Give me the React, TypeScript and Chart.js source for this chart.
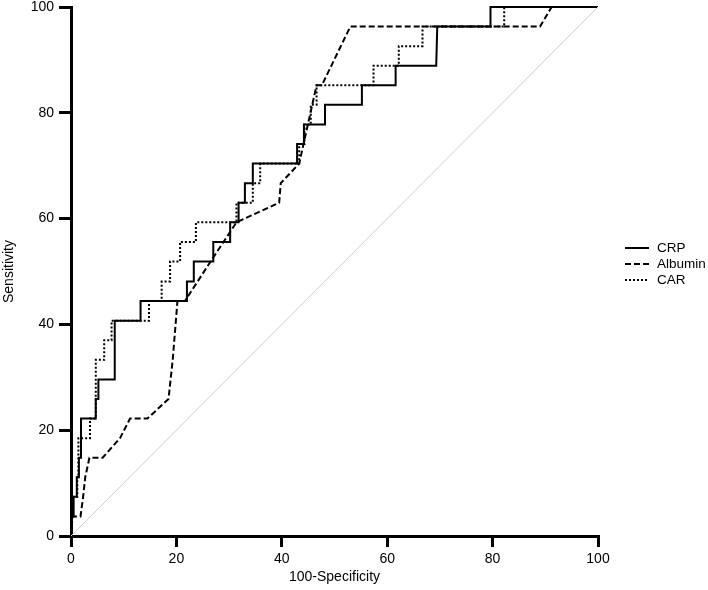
import React, { useEffect, useRef } from 'react';
import { Chart, registerables } from 'chart.js';

Chart.register(...registerables);

// ---- data (x = 100-Specificity, y = Sensitivity) ----
const seriesNames = ['CRP', 'Albumin', 'CAR'];

const crpPoints: number[][] = [
  [0, 0], [0, 3.7], [0.5, 3.7], [0.5, 7.4], [1.1, 7.4], [1.1, 11.1], [1.5, 11.1], [1.5, 14.8],
  [1.9, 14.8], [1.9, 22.2], [4.7, 22.2], [4.7, 25.9], [5.2, 25.9], [5.2, 29.6], [8.3, 29.6],
  [8.3, 40.7], [13.2, 40.7], [13.2, 44.4], [22.0, 44.4], [22.0, 48.1], [23.3, 48.1], [23.3, 51.9],
  [27.0, 51.9], [27.0, 55.6], [30.2, 55.6], [30.2, 59.3], [31.8, 59.3], [31.8, 63.0], [33.0, 63.0],
  [33.0, 66.7], [34.5, 66.7], [34.5, 70.4], [42.9, 70.4], [42.9, 74.1], [44.2, 74.1], [44.2, 77.8],
  [48.2, 77.8], [48.2, 81.5], [55.2, 81.5], [55.2, 85.2], [61.6, 85.2], [61.6, 88.9], [69.3, 88.9],
  [69.5, 96.3], [79.6, 96.3], [79.6, 100], [100, 100],
];

const albuminPoints: number[][] = [
  [0, 0], [0.3, 3.7], [1.8, 3.7], [2.3, 7.4], [2.7, 11.1], [3.5, 14.8], [6.0, 14.8], [9.3, 18.5],
  [11.2, 22.2], [14.5, 22.2], [18.5, 25.9], [19.3, 33.3], [20.2, 44.4], [21.6, 44.4], [26.5, 51.9],
  [31.4, 59.3], [39.5, 63.0], [39.8, 66.7], [43.3, 70.4], [46.6, 85.2], [47.6, 85.2], [53.0, 96.3],
  [89.0, 96.3], [91.2, 100], [100, 100],
];

const carPoints: number[][] = [
  [0, 0], [0, 7.4], [1.2, 7.4], [1.2, 11.1], [1.4, 11.1], [1.4, 18.5], [3.6, 18.5], [3.6, 22.2],
  [4.7, 22.2], [4.7, 33.3], [6.3, 33.3], [6.3, 37.0], [7.7, 37.0], [7.7, 40.7], [14.8, 40.7],
  [14.8, 44.4], [17.2, 44.4], [17.2, 48.1], [18.8, 48.1], [18.8, 51.9], [20.7, 51.9], [20.7, 55.6],
  [23.7, 55.6], [23.7, 59.3], [31.4, 59.3], [31.4, 63.0], [34.5, 63.0], [34.5, 66.7], [35.9, 66.7],
  [35.9, 70.4], [43.3, 70.4], [43.3, 74.1], [44.3, 74.1], [44.3, 77.8], [45.5, 77.8], [45.5, 81.5],
  [46.6, 81.5], [46.6, 85.2], [57.4, 85.2], [57.4, 88.9], [62.2, 88.9], [62.2, 92.6], [66.7, 92.6],
  [66.7, 96.3], [82.2, 96.3], [82.2, 100], [100, 100],
];

const diagonalPoints: number[][] = [[0, 0], [100, 100]];

const axisMin = 0;
const axisMax = 100;
const axisStep = 20;
const xTitle = '100-Specificity';
const yTitle = 'Sensitivity';

const FONT = '"Liberation Sans", Arial, Helvetica, sans-serif';

const toXY = (pts: number[][]) => pts.map(([x, y]) => ({ x, y }));

const rocLegend = {
  id: 'rocLegend',
  afterDraw(chart: any) {
    const ctx = chart.ctx;
    const items = chart.data.datasets.filter((d: any) => d.label);
    ctx.save();
    ctx.font = `13.5px ${FONT}`;
    ctx.textBaseline = 'middle';
    ctx.textAlign = 'left';
    ctx.fillStyle = '#000';
    const x0 = chart.chartArea.right + 27;
    let y = 248;
    items.forEach((d: any) => {
      ctx.strokeStyle = '#000';
      ctx.lineWidth = 2;
      ctx.setLineDash(d.borderDash || []);
      ctx.beginPath();
      ctx.moveTo(x0, y);
      ctx.lineTo(x0 + 24, y);
      ctx.stroke();
      ctx.setLineDash([]);
      ctx.fillText(d.label, x0 + 32, y + 0.5);
      y += 16;
    });
    ctx.restore();
  },
};

export default function App() {
  const ref = useRef<HTMLCanvasElement>(null);

  useEffect(() => {
    if (!ref.current) return;
    const lineBase = {
      showLine: true,
      pointRadius: 0,
      pointHoverRadius: 0,
      borderColor: '#000',
      backgroundColor: '#000',
      borderWidth: 2,
      fill: false,
      tension: 0,
      clip: false as any,
    };
    const chart = new Chart(ref.current, {
      type: 'scatter',
      data: {
        datasets: [
          {
            ...lineBase,
            label: '',
            data: toXY(diagonalPoints),
            borderColor: '#cfcfcf',
            borderWidth: 1,
          },
          { ...lineBase, label: seriesNames[0], data: toXY(crpPoints), borderDash: [] },
          { ...lineBase, label: seriesNames[1], data: toXY(albuminPoints), borderDash: [6, 3] },
          { ...lineBase, label: seriesNames[2], data: toXY(carPoints), borderDash: [2, 2] },
        ] as any,
      },
      options: {
        responsive: false,
        animation: false,
        layout: { padding: { left: 0, top: 7, right: 110, bottom: 0 } },
        plugins: {
          legend: { display: false },
          tooltip: { enabled: false },
        },
        scales: {
          x: {
            type: 'linear',
            min: axisMin,
            max: axisMax,
            ticks: { stepSize: axisStep, color: '#000', font: { family: FONT, size: 14 }, padding: 4, maxRotation: 0 },
            grid: { drawOnChartArea: false, drawTicks: true, tickLength: 11, lineWidth: 3, color: '#000' },
            border: { display: true, width: 3, color: '#000' },
            title: { display: true, text: xTitle, color: '#000', font: { family: FONT, size: 14 }, padding: { top: 0, bottom: 4 } },
            afterFit: (s: any) => { s.height = 54; s.paddingLeft = 0; s.paddingRight = 0; },
          },
          y: {
            type: 'linear',
            min: axisMin,
            max: axisMax,
            ticks: { stepSize: axisStep, color: '#000', font: { family: FONT, size: 14, lineHeight: 1 }, padding: 5 },
            grid: { drawOnChartArea: false, drawTicks: true, tickLength: 12, lineWidth: 3, color: '#000' },
            border: { display: true, width: 3, color: '#000' },
            title: { display: true, text: yTitle, color: '#000', font: { family: FONT, size: 14 }, padding: { top: 1, bottom: 0 } },
            afterFit: (s: any) => { s.width = 71; s.paddingTop = 0; s.paddingBottom = 0; },
          },
        },
      },
      plugins: [rocLegend],
    });
    return () => chart.destroy();
  }, []);

  return (
    <div style={{ position: 'absolute', left: 0, top: 0, width: 708, height: 590, background: '#fff' }}>
      <canvas ref={ref} width={708} height={590} style={{ display: 'block' }} />
    </div>
  );
}
